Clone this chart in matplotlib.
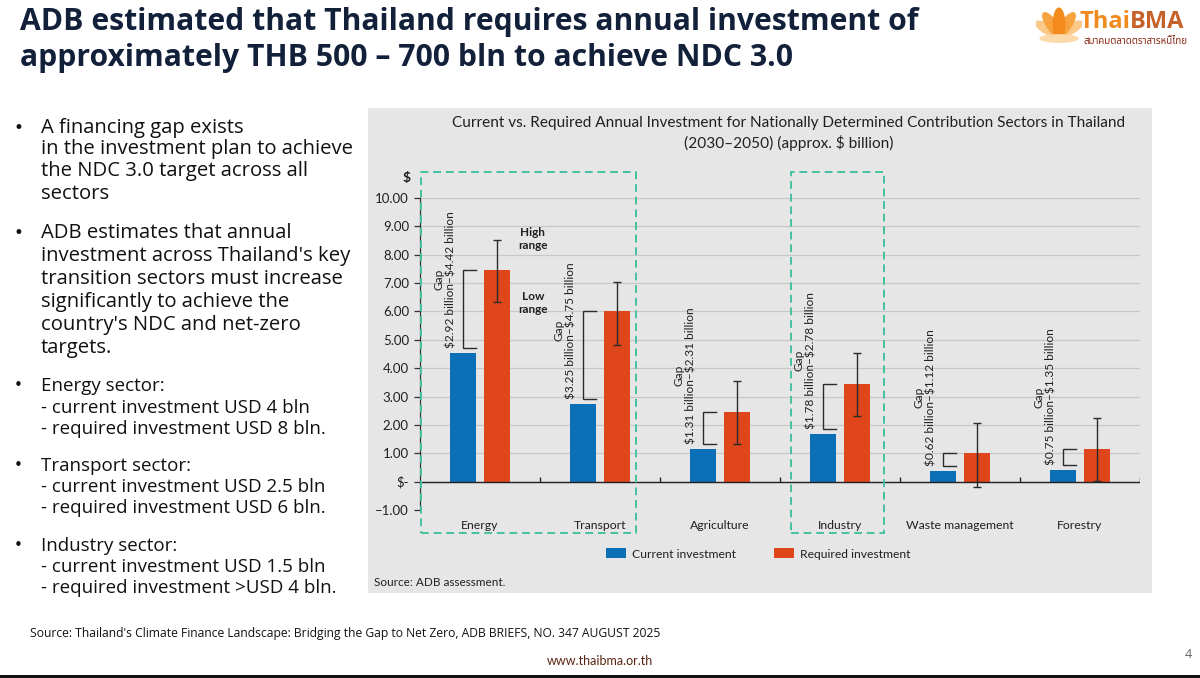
import matplotlib.pyplot as plt
from matplotlib.patches import Rectangle, Ellipse
import numpy as np

plt.rcParams['text.parse_math'] = False

# chart data (approx. $ billion per year)
sectors = ["Energy", "Transport", "Agriculture", "Industry", "Waste management", "Forestry"]
current = [4.55, 2.75, 1.16, 1.69, 0.39, 0.40]
required = [7.45, 6.00, 2.46, 3.45, 1.02, 1.16]
req_low = [6.34, 4.82, 1.34, 2.32, -0.18, 0.03]
req_high = [8.52, 7.03, 3.56, 4.54, 2.08, 2.25]
gap_low = [2.92, 3.25, 1.31, 1.78, 0.62, 0.75]
gap_high = [4.42, 4.75, 2.31, 2.78, 1.12, 1.35]
y_ticks = [-1, 0, 1, 2, 3, 4, 5, 6, 7, 8, 9, 10]
y_tick_labels = ["–1.00", "$-", "1.00", "2.00", "3.00", "4.00", "5.00",
                 "6.00", "7.00", "8.00", "9.00", "10.00"]

bullets = [
    ["A financing gap exists", "in the investment plan to achieve",
     "the NDC 3.0 target across all", "sectors"],
    ["ADB estimates that annual", "investment across Thailand's key",
     "transition sectors must increase", "significantly to achieve the",
     "country's NDC and net-zero", "targets."],
]
sector_bullets = [
    ["Energy sector:", "- current investment USD 4 bln", "- required investment USD 8 bln."],
    ["Transport sector:", "- current investment USD 2.5 bln", "- required investment USD 6 bln."],
    ["Industry sector:", "- current investment USD 1.5 bln", "- required investment >USD 4 bln."],
]

BLUE = "#0b70b8"
RED = "#e0461b"
TEAL = "#45c2a2"
DARK = "#231f20"
CHART_FONT = "Lato"
SLIDE_FONT = "Open Sans"

W, H = 1200, 678
fig = plt.figure(figsize=(12, 6.78), dpi=100)
fig.patch.set_facecolor("white")


def P(x, y):
    return x / W, 1 - y / H


# grey panel behind the chart
px, py = P(368, 593)
fig.patches.append(Rectangle((px, py), (1152 - 368) / W, (593 - 108) / H,
                             transform=fig.transFigure, facecolor="#e6e6e6",
                             edgecolor="none", zorder=-5))

# slide title
fig.text(*P(20, 22), "ADB estimated that Thailand requires annual investment of",
         fontsize=21.7, fontweight="bold", color="#12203a", va="center",
         family=SLIDE_FONT)
fig.text(*P(20, 58), "approximately THB 500 – 700 bln to achieve NDC 3.0",
         fontsize=21.7, fontweight="bold", color="#12203a", va="center",
         family=SLIDE_FONT)

# left bullet text
big_y = [[128, 149, 171, 194], [233, 256, 279, 302, 325, 348]]
for lines, ys in zip(bullets, big_y):
    fig.text(*P(14, ys[0]), "•", fontsize=12, va="center", color="#111111")
    for line, y in zip(lines, ys):
        fig.text(*P(41, y), line, fontsize=14.6, va="center", color="#111111",
                 family=SLIDE_FONT)
small_y = [[386, 408, 429], [466, 487, 508], [546, 567, 588]]
for lines, ys in zip(sector_bullets, small_y):
    fig.text(*P(14, ys[0]), "•", fontsize=11, va="center", color="#111111")
    for line, y in zip(lines, ys):
        fig.text(*P(41, y), line, fontsize=13.5, va="center", color="#111111",
                 family=SLIDE_FONT)

# chart axes
ax = fig.add_axes([420 / W, 1 - 510 / H, 720 / W, 312 / H])
ax.set_facecolor("none")
x = np.arange(len(sectors))
bw = 0.22
off = 0.14

ax.set_xlim(-0.5, 5.5)
ax.set_ylim(-1, 10)
ax.set_yticks(y_ticks)
ax.set_yticklabels(y_tick_labels, family=CHART_FONT, fontsize=9.5, color=DARK)
ax.yaxis.grid(True, color="#c8c8c8", lw=0.9)
ax.set_axisbelow(True)
ax.tick_params(axis="y", length=4, width=0.9, color="#333333", pad=4)
ax.set_xticks(x)
ax.set_xticklabels(sectors, family=CHART_FONT, fontsize=8.8, color=DARK)
ax.tick_params(axis="x", length=0, pad=7)
for s in ["top", "right", "bottom"]:
    ax.spines[s].set_visible(False)
ax.spines["left"].set_color("#333333")
ax.spines["left"].set_linewidth(0.9)

ax.axhline(0, color="#222222", lw=1.0, zorder=3)
ax.vlines(np.arange(len(sectors)) + 0.5, 0, 0.18, color="#222222", lw=1.0, zorder=3)

bars_c = ax.bar(x - off, current, bw, color=BLUE, label="Current investment", zorder=2)
bars_r = ax.bar(x + off, required, bw, color=RED, label="Required investment", zorder=2)

req = np.array(required)
yerr = [req - np.array(req_low), np.array(req_high) - req]
ax.errorbar(x + off, req, yerr=yerr, fmt="none", ecolor="#2b2b2b", elinewidth=1.0,
            capsize=3, capthick=1.0, zorder=4)

# gap brackets and labels
for i in range(len(sectors)):
    xc = x[i] - off
    lo = current[i] + 0.17
    hi = required[i]
    ax.plot([xc + bw / 2, xc, xc, xc + bw / 2], [lo, lo, hi, hi],
            color="#2b2b2b", lw=1.0, zorder=4, solid_joinstyle="miter")
    ax.text(xc - 0.06, lo, "Gap\n${:.2f} billion–${:.2f} billion".format(gap_low[i], gap_high[i]),
            rotation=90, ha="right", va="bottom", multialignment="center",
            family=CHART_FONT, fontsize=8.6, color=DARK, linespacing=1.1)

ax.text(0.44, 8.55, "High\nrange", ha="center", va="center", fontsize=8.5,
        fontweight="bold", family=CHART_FONT, color=DARK, linespacing=1.3)
ax.text(0.44, 6.3, "Low\nrange", ha="center", va="center", fontsize=8.5,
        fontweight="bold", family=CHART_FONT, color=DARK, linespacing=1.3)

# dashed highlight boxes
for x0, x1 in [(-0.49, 1.30), (2.59, 3.37)]:
    ax.add_patch(Rectangle((x0, -1.8), x1 - x0, 12.7, fill=False, edgecolor=TEAL,
                           lw=1.4, ls=(0, (4, 2.5)), clip_on=False, zorder=5))

ax.text(-0.58, 10.7, "$", ha="right", va="center", family=CHART_FONT,
        fontsize=10, fontweight="bold", color=DARK)

fig.text(*P(789, 123), "Current vs. Required Annual Investment for Nationally "
         "Determined Contribution Sectors in Thailand", ha="center", va="center",
         family=CHART_FONT, fontsize=11.1, color=DARK)
fig.text(*P(789, 143), "(2030–2050) (approx. $ billion)", ha="center", va="center",
         family=CHART_FONT, fontsize=11.1, color=DARK)

leg = ax.legend(handles=[bars_c, bars_r], loc="center", bbox_to_anchor=(0.47, -0.141),
                ncol=2, frameon=False, prop={"family": CHART_FONT, "size": 8.7},
                handlelength=1.6, handleheight=0.9, columnspacing=3.2, handletextpad=0.5)
for t in leg.get_texts():
    t.set_color(DARK)

fig.text(*P(374, 582), "Source: ADB assessment.", va="center", family=CHART_FONT,
         fontsize=8.5, color=DARK)

# footer
fig.text(*P(30, 634), "Source: Thailand's Climate Finance Landscape: Bridging the Gap to "
         "Net Zero, ADB BRIEFS, NO. 347 AUGUST 2025", va="center", family=SLIDE_FONT,
         fontsize=8.7, color="#111111")
fig.text(*P(600, 661), "www.thaibma.or.th", ha="center", va="center",
         family=CHART_FONT, fontsize=9, color="#5a2410")
fig.text(*P(1188, 655), "4", ha="center", va="center", family=SLIDE_FONT,
         fontsize=9, color="#666666")
fig.patches.append(Rectangle((0, 0), 1, 3 / H, transform=fig.transFigure,
                             facecolor="#111111", edgecolor="none"))

# logo
lax = fig.add_axes([1036 / W, 1 - 48 / H, 46 / W, 42 / H])
lax.set_xlim(-1.1, 1.1)
lax.set_ylim(-1.0, 1.0)
lax.set_aspect("equal")
lax.axis("off")
for ang, col, w, h, cx, cy in [(60, "#fbc98a", 0.45, 1.3, -0.55, -0.1),
                               (-60, "#fbc98a", 0.45, 1.3, 0.55, -0.1),
                               (35, "#f7a440", 0.5, 1.5, -0.3, 0.05),
                               (-35, "#f7a440", 0.5, 1.5, 0.3, 0.05),
                               (0, "#f28a1c", 0.55, 1.6, 0.0, 0.1)]:
    lax.add_patch(Ellipse((cx, cy), w, h, angle=ang, color=col))
lax.add_patch(Ellipse((0.0, -0.55), 1.8, 0.35, color="#fcd9a8"))

fig.text(*P(1080, 22), "Thai", va="center", family=SLIDE_FONT, fontsize=17,
         fontweight="bold", color="#f18a1f")
fig.text(*P(1130, 22), "BMA", va="center", family=SLIDE_FONT, fontsize=17,
         fontweight="bold", color="#c5622a")
fig.text(*P(1188, 42), "สมาคมตลาดตราสารหนี้ไทย", ha="right", va="center",
         family=["Noto Sans Thai", "Noto Sans", "DejaVu Sans"], fontsize=7,
         color="#8a2a16")

fig.savefig("out.png", dpi=100)
